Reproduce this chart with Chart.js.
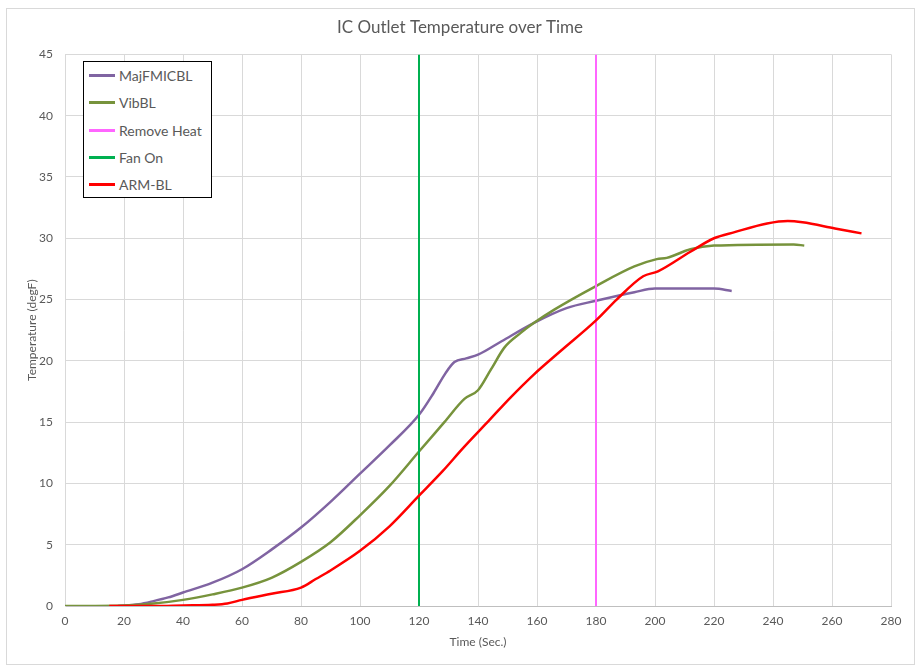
<!DOCTYPE html>
<html lang="en">
<head>
  <meta charset="utf-8">
  <title>IC Outlet Temperature over Time</title>
  <script src="https://cdn.jsdelivr.net/npm/chart.js"></script>
  <style>
    body { margin: 0; background: #fff; font-family: Lato, sans-serif; }
    .wrap { position: relative; width: 920px; height: 671px; }
    .frame { position: absolute; left: 6px; top: 8px; width: 907px; height: 655px; border: 1px solid #d9d9d9; pointer-events: none; }
    #legend { position: absolute; left: 83px; top: 61px; width: 129px; height: 137px; border: 1px solid #000; background: #fff; box-sizing: border-box; padding-top: 0; }
    #legend .item { height: 27.3px; display: flex; align-items: center; font-size: 14px; color: #595959; }
    #legend .swatch { width: 26px; height: 3px; margin-left: 5px; margin-right: 4px; }
  </style>
</head>
<body>
<div class="wrap">
  <canvas id="tempChart" width="920" height="671"></canvas>
  <div class="frame"></div>
  <div id="legend"></div>
</div>

<script>
  // values
  const majTime = [18, 25, 30, 35, 40, 50, 60, 70, 80, 90, 100, 110, 120, 125, 129, 132, 136, 140, 148, 159, 170, 180, 193, 200, 220, 226];
  const majTemp = [0, 0.15, 0.4, 0.7, 1.1, 1.9, 3.0, 4.6, 6.4, 8.5, 10.8, 13.1, 15.6, 17.4, 19.0, 19.9, 20.2, 20.5, 21.6, 23.1, 24.3, 24.9, 25.6, 25.9, 25.9, 25.7];

  const vibTime = [0, 20, 30, 40, 50, 60, 70, 80, 90, 100, 110, 120, 128.6, 135.4, 140, 144.4, 149, 154.6, 159, 166, 180, 193, 200.6, 204, 212, 220, 247, 250.6];
  const vibTemp = [0, 0.05, 0.2, 0.5, 0.95, 1.5, 2.3, 3.6, 5.2, 7.4, 9.8, 12.6, 15.0, 16.9, 17.6, 19.3, 21.1, 22.3, 23.1, 24.2, 26.1, 27.7, 28.3, 28.4, 29.1, 29.4, 29.5, 29.4];

  const armTime = [15, 30, 40, 50, 55, 60, 70, 80, 85, 90, 100, 110, 120, 128, 135, 144, 151, 159, 168, 180, 187, 196, 201, 212, 220, 227, 238, 245, 250, 261, 270];
  const armTemp = [0, 0, 0.05, 0.1, 0.2, 0.5, 1.0, 1.5, 2.2, 2.9, 4.5, 6.5, 9.0, 11.0, 12.9, 15.2, 17.0, 18.9, 20.8, 23.3, 25.0, 26.9, 27.3, 28.9, 30.0, 30.5, 31.2, 31.4, 31.3, 30.8, 30.4];

  const removeHeatTime = [180, 180];
  const fanOnTime = [120, 120];
  const markerTemp = [0, 45];

  const xTicks = { min: 0, max: 280, step: 20 };
  const yTicks = { min: 0, max: 45, step: 5 };

  const toPoints = (xs, ys) => xs.map((x, i) => ({ x: x, y: ys[i] }));

  const grey = '#595959';
  const font12 = { family: 'Lato', size: 12 };

  // legend order, drawing order via "order" (lower = on top)
  const datasets = [
    { label: 'MajFMICBL', data: toPoints(majTime, majTemp), borderColor: '#8064A2', borderWidth: 2.5, order: 5 },
    { label: 'VibBL', data: toPoints(vibTime, vibTemp), borderColor: '#77933C', borderWidth: 2.5, order: 4 },
    { label: 'Remove Heat', data: toPoints(removeHeatTime, markerTemp), borderColor: '#FF66FF', borderWidth: 2, order: 3 },
    { label: 'Fan On', data: toPoints(fanOnTime, markerTemp), borderColor: '#00B050', borderWidth: 2, order: 2 },
    { label: 'ARM-BL', data: toPoints(armTime, armTemp), borderColor: '#FF0000', borderWidth: 2.5, order: 1 }
  ];
  datasets.forEach(d => {
    d.pointRadius = 0;
    d.fill = false;
    d.cubicInterpolationMode = 'monotone';
  });

  const ctx = document.getElementById('tempChart').getContext('2d');
  const chart = new Chart(ctx, {
    type: 'line',
    data: { datasets: datasets },
    options: {
      responsive: false,
      animation: false,
      devicePixelRatio: 1,
      layout: { padding: 0 },
      scales: {
        x: {
          type: 'linear',
          min: xTicks.min,
          max: xTicks.max,
          ticks: { stepSize: xTicks.step, color: grey, font: font12, padding: 8, maxRotation: 0 },
          grid: { color: '#d9d9d9', drawTicks: false },
          border: { color: '#bfbfbf' },
          title: { display: true, text: 'Time (Sec.)', color: grey, font: font12, padding: { top: 4, bottom: 22 } },
          afterFit: scale => { scale.height = 65; }
        },
        y: {
          min: yTicks.min,
          max: yTicks.max,
          ticks: { stepSize: yTicks.step, color: grey, font: font12, padding: 12 },
          grid: { color: '#d9d9d9', drawTicks: false },
          border: { color: '#d9d9d9' },
          title: { display: true, text: 'Temperature (degF)', color: grey, font: font12, padding: { top: 25, bottom: 4 } },
          afterFit: scale => { scale.width = 65; }
        },
        // empty right-hand spacer so the plot ends where the reference does
        spacer: {
          position: 'right',
          min: 0,
          max: 1,
          ticks: { display: false },
          grid: { display: false },
          border: { display: false },
          afterFit: scale => { scale.width = 29; }
        }
      },
      plugins: {
        legend: { display: false },
        tooltip: { enabled: false },
        title: {
          display: true,
          text: 'IC Outlet Temperature over Time',
          color: grey,
          font: { family: 'Lato', size: 17, weight: 'normal' },
          padding: { top: 17, bottom: 17 }
        }
      }
    }
  });

  // html legend built from the datasets
  const legendBox = document.getElementById('legend');
  chart.data.datasets.forEach(d => {
    const item = document.createElement('div');
    item.className = 'item';
    const sw = document.createElement('span');
    sw.className = 'swatch';
    sw.style.background = d.borderColor;
    const txt = document.createElement('span');
    txt.textContent = d.label;
    item.appendChild(sw);
    item.appendChild(txt);
    legendBox.appendChild(item);
  });
</script>
</body>
</html>
